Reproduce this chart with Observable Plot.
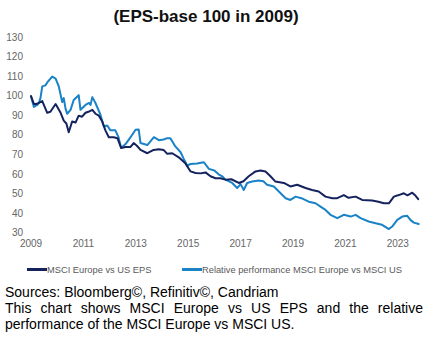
<!DOCTYPE html>
<html>
<head>
<meta charset="utf-8">
<script src="https://cdn.jsdelivr.net/npm/d3@7"></script>
<script src="https://cdn.jsdelivr.net/npm/@observablehq/plot@0.6"></script>
<style>
  html, body { margin: 0; padding: 0; background: #fff; }
  body { width: 441px; height: 350px; position: relative; overflow: hidden; font-family: "Liberation Sans", Arial, sans-serif; }
  #title { position: absolute; left: 0; top: 6px; width: 412px; text-align: center; font-weight: bold; font-size: 17px; line-height: 22px; color: #111; }
  #chart { position: absolute; left: 0; top: 30px; }
  #legend { position: absolute; left: 27px; top: 263px; font-size: 9.3px; line-height: 14px; color: #595959; white-space: nowrap; }
  #legend .item { position: absolute; top: 0; }
  #legend .sw { display: inline-block; width: 20px; height: 2.5px; vertical-align: middle; position: relative; top: -1px; }
  #footer { position: absolute; left: 5px; top: 283.5px; width: 418px; font-size: 14px; line-height: 16px; color: #000; }
  #footer p { margin: 0; }
  #footer .just { text-align: justify; }
</style>
</head>
<body>
<div id="title">(EPS-base 100 in 2009)</div>
<div id="chart"></div>
<div id="legend"></div>
<div id="footer"></div>
<script>
// ---- data ----
const seriesNames = ["MSCI Europe vs US EPS", "Relative performance MSCI Europe vs MSCI US"];
const seriesColors = ["#14235e", "#1a82c6"];

const epsYears = [2009.0, 2009.11, 2009.2, 2009.3, 2009.43, 2009.62, 2009.74, 2009.94, 2010.13, 2010.25, 2010.35, 2010.44, 2010.57, 2010.7, 2010.82, 2010.95,
  2011.08, 2011.19, 2011.34, 2011.46, 2011.59, 2011.72, 2011.84, 2011.97, 2012.16, 2012.3, 2012.44, 2012.61, 2012.8, 2012.92, 2013.05, 2013.18, 2013.44,
  2013.68, 2013.88, 2014.06, 2014.2, 2014.39, 2014.64, 2014.9, 2015.09, 2015.28, 2015.47, 2015.66, 2015.85, 2016.04, 2016.23, 2016.42, 2016.65, 2016.93,
  2017.11, 2017.31, 2017.57, 2017.76, 2017.95, 2018.14, 2018.33, 2018.65, 2018.9, 2019.16, 2019.48, 2019.73, 2019.98, 2020.24, 2020.5, 2020.69, 2020.94,
  2021.12, 2021.39, 2021.64, 2022.02, 2022.26, 2022.47, 2022.66, 2022.85, 2023.04, 2023.23, 2023.37, 2023.55, 2023.68, 2023.78];
const epsValues = [100, 96, 96, 96.5, 97.5, 91.5, 92, 96, 91.5, 87.5, 86, 81.5, 87, 86.5, 90, 89.5,
  91.5, 92, 93, 91, 90, 87, 82.5, 79, 79, 78.5, 73.5, 74, 74, 76, 74.5, 72.5, 70.8,
  72.5, 72.8, 72.5, 70.5, 70.8, 68.7, 65.5, 61.5, 60.7, 60.5, 61, 59, 58, 58, 57.3, 57.5, 55.6,
  56.5, 59, 61.5, 62, 61.5, 59, 56.3, 55.6, 53.8, 54.7, 53, 52, 51.2, 48.6, 47.8, 47.8, 49.4,
  48, 48.6, 46.9, 46.6, 46, 45.2, 45.2, 48.6, 49.4, 50.3, 49.3, 50.6, 49, 47.3];

const relYears = [2009.0, 2009.11, 2009.24, 2009.3, 2009.36, 2009.43, 2009.55, 2009.62, 2009.81, 2009.94, 2010.06, 2010.19, 2010.25, 2010.32, 2010.38,
  2010.51, 2010.63, 2010.82, 2010.89, 2011.08, 2011.21, 2011.27, 2011.34, 2011.46, 2011.65, 2011.78, 2011.91, 2012.03, 2012.22, 2012.34, 2012.44,
  2012.61, 2012.8, 2012.99, 2013.11, 2013.18, 2013.44, 2013.69, 2013.88, 2014.06, 2014.2, 2014.32, 2014.51, 2014.71, 2014.83, 2014.96, 2015.09,
  2015.34, 2015.6, 2015.79, 2016.0, 2016.16, 2016.3, 2016.42, 2016.68, 2016.87, 2017.0, 2017.12, 2017.25, 2017.44, 2017.69, 2017.87, 2018.01,
  2018.27, 2018.46, 2018.72, 2018.9, 2019.1, 2019.32, 2019.6, 2019.86, 2020.05, 2020.24, 2020.43, 2020.69, 2020.94, 2021.2, 2021.39, 2021.58,
  2021.89, 2022.15, 2022.4, 2022.66, 2022.8, 2022.98, 2023.17, 2023.36, 2023.48, 2023.61, 2023.8];
const relValues = [100, 94.5, 95.5, 96.5, 99, 105, 105.5, 107, 110, 109, 105, 97, 99, 93.5, 91,
  93, 98, 100.5, 93, 95.5, 96.5, 95.5, 99.5, 96.5, 90.5, 84.5, 85, 82.5, 82.5, 79, 73.5,
  75.5, 79, 82.8, 83, 76, 75, 79, 77.5, 77.8, 78.5, 78.5, 74.3, 71.3, 67.9, 64.5, 65.3,
  65.5, 66.2, 62.8, 62, 60, 59, 57.3, 55.6, 53, 55, 52, 55.6, 56.3, 56.8, 56.5, 54.7,
  53.8, 51.2, 47.8, 46.9, 48.6, 47.8, 46, 45.2, 43.5, 41.8, 39.3, 37.6, 39.3, 38.4, 39.3, 37.6,
  35.9, 35, 34.2, 32, 33.5, 36.7, 38.4, 38.8, 36.7, 35.3, 34.6];

const xTicks = [2009, 2011, 2013, 2015, 2017, 2019, 2021, 2023];
const yTicks = [30, 40, 50, 60, 70, 80, 90, 100, 110, 120, 130];

const sourceText = "Sources: Bloomberg\u00A9, Refinitiv\u00A9, Candriam";
const captionText = "This chart shows MSCI Europe vs US EPS and the relative performance of the MSCI Europe vs MSCI US.";

// ---- build ----
const rows = [
  ...epsYears.map((x, i) => ({x, y: epsValues[i], s: seriesNames[0]})),
  ...relYears.map((x, i) => ({x, y: relValues[i], s: seriesNames[1]}))
];

const chart = Plot.plot({
  width: 441,
  height: 230,
  marginLeft: 30.5,
  marginRight: 17.5,
  marginTop: 7,
  marginBottom: 27.5,
  style: {fontFamily: '"Liberation Sans", Arial, sans-serif', fontSize: "10px", color: "#666", background: "transparent"},
  x: {domain: [2009, 2024]},
  y: {domain: [30, 130]},
  color: {domain: seriesNames, range: seriesColors},
  marks: [
    Plot.axisX({ticks: xTicks, tickSize: 0, tickPadding: 7, tickFormat: d => String(d), label: null}),
    Plot.axisY({ticks: yTicks, tickSize: 0, tickPadding: 8, label: null}),
    Plot.line(rows.filter(d => d.s === seriesNames[1]), {x: "x", y: "y", stroke: "s", strokeWidth: 2}),
    Plot.line(rows.filter(d => d.s === seriesNames[0]), {x: "x", y: "y", stroke: "s", strokeWidth: 2})
  ]
});
document.getElementById("chart").appendChild(chart);

// legend
const legend = document.getElementById("legend");
const lefts = [0, 155];
seriesNames.forEach((name, i) => {
  const item = document.createElement("span");
  item.className = "item";
  item.style.left = lefts[i] + "px";
  const sw = document.createElement("span");
  sw.className = "sw";
  sw.style.background = seriesColors[i];
  item.appendChild(sw);
  item.appendChild(document.createTextNode(name));
  legend.appendChild(item);
});

// footer
const footer = document.getElementById("footer");
const p1 = document.createElement("p"); p1.textContent = sourceText;
const p2 = document.createElement("p"); p2.className = "just"; p2.textContent = captionText;
footer.appendChild(p1); footer.appendChild(p2);
</script>
</body>
</html>
